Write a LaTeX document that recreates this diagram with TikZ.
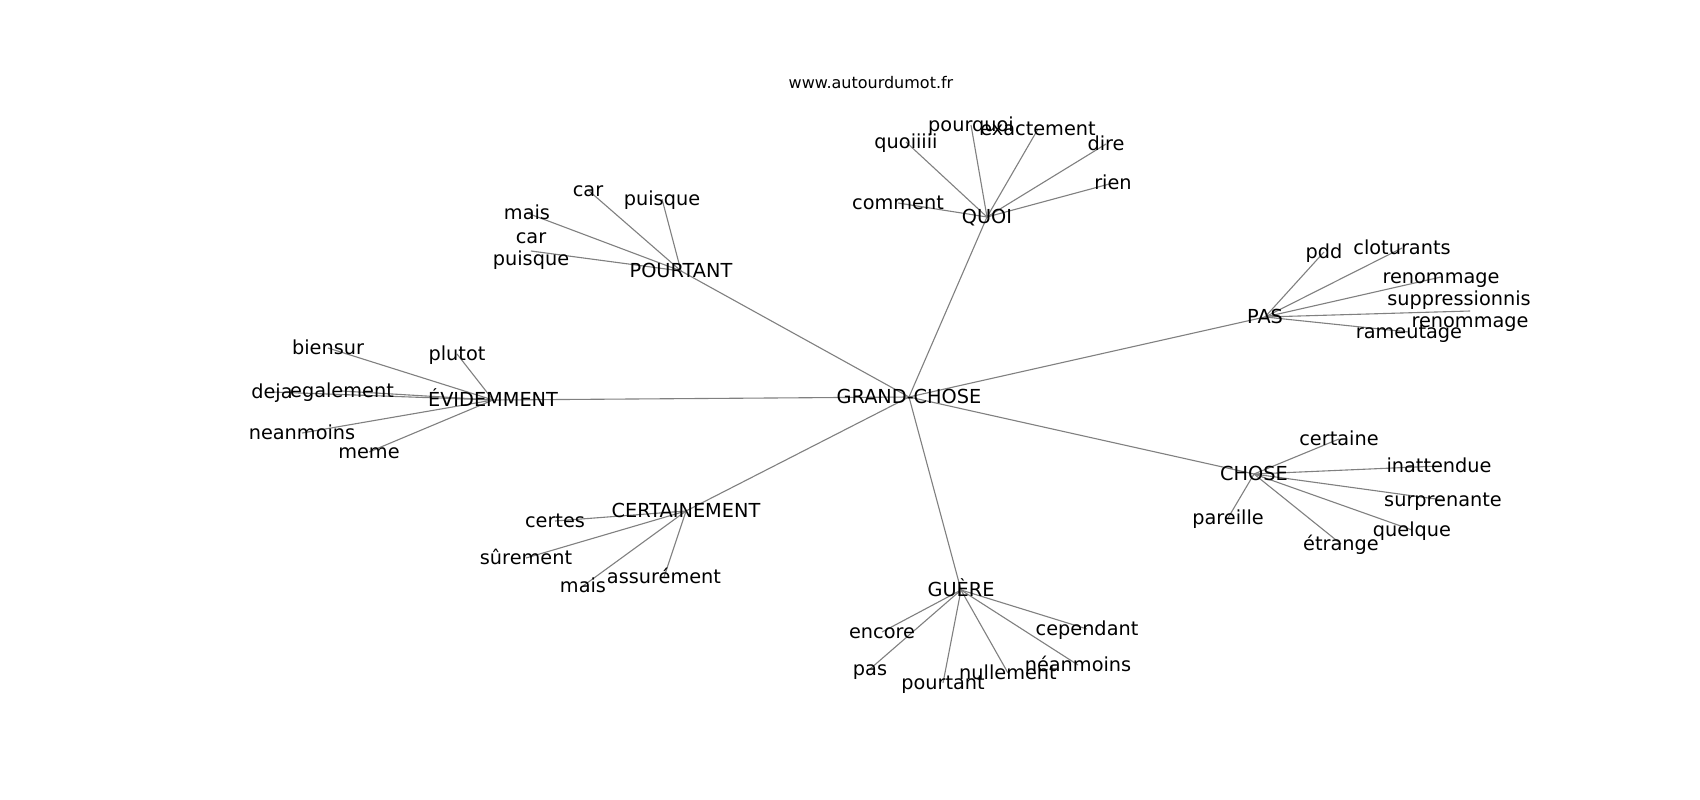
\documentclass[tikz,border=0pt]{standalone}
\usepackage{fontspec}
\setmainfont{DejaVu Sans}
\usetikzlibrary{backgrounds}

\begin{document}
\begin{tikzpicture}
	[x=1pt, y=-1pt,
	 word/.style={inner sep=0pt, font=\fontsize{19.3}{21.5}\selectfont, text height=14.8pt, text depth=2.8pt},
	 pair/.style={inner sep=0pt, font=\fontsize{19.3}{21.5}\selectfont, align=center},
	 link/.style={draw=black!50, line width=1.1pt}]

	\useasboundingbox (0,0) rectangle (1700,800);

	\node[inner sep=0pt, font=\fontsize{16}{19}\selectfont] (site) at (871,83) {www.autourdumot.fr};

	% centre and hubs
	\node[word] (gc) at (909,397) {GRAND-CHOSE};
	\node[word] (quoi) at (987,217) {QUOI};
	\node[word] (pourtant) at (681,271) {POURTANT};
	\node[word] (evid) at (493,400) {ÉVIDEMMENT};
	\node[word] (certain) at (686,511) {CERTAINEMENT};
	\node[word] (guere) at (961,590) {GUÈRE};
	\node[word] (chose) at (1254,474) {CHOSE};
	\node[word] (pas) at (1265,317) {PAS};

	% QUOI
	\node[word] (q1) at (971,125) {pourquoi};
	\node[word] (q2) at (1038,129) {exactement};
	\node[word] (q3) at (906,142) {quoiiiii};
	\node[word] (q4) at (1106,144) {dire};
	\node[word] (q5) at (1113,183) {rien};
	\node[word] (q6) at (898,203) {comment};

	% POURTANT
	\node[word] (p1) at (588,190) {car};
	\node[word] (p2) at (662,199) {puisque};
	\node[word] (p3) at (527,213) {mais};
	\node[pair] (p4) at (531,251) {car\\puisque};

	% EVIDEMMENT
	\node[word] (e1) at (328,348) {biensur};
	\node[word] (e2) at (457,354) {plutot};
	\node[word] (e3) at (272,392) {deja};
	\node[word] (e4) at (342,391) {egalement};
	\node[word] (e5) at (302,433) {neanmoins};
	\node[word] (e6) at (369,452) {meme};

	% CERTAINEMENT
	\node[word] (c1) at (555,521) {certes};
	\node[word] (c2) at (526,558) {sûrement};
	\node[word] (c3) at (583,586) {mais};
	\node[word] (c4) at (664,577) {assurément};

	% GUERE
	\node[word] (g1) at (882,632) {encore};
	\node[word] (g2) at (870,669) {pas};
	\node[word] (g3) at (943,683) {pourtant};
	\node[word] (g4) at (1008,673) {nullement};
	\node[word] (g5) at (1078,665) {néanmoins};
	\node[word] (g6) at (1087,629) {cependant};

	% CHOSE
	\node[word] (h1) at (1339,439) {certaine};
	\node[word] (h2) at (1439,466) {inattendue};
	\node[word] (h3) at (1443,500) {surprenante};
	\node[word] (h4) at (1412,530) {quelque};
	\node[word] (h5) at (1341,544) {étrange};
	\node[word] (h6) at (1228,518) {pareille};

	% PAS
	\node[word] (s1) at (1324,252) {pdd};
	\node[word] (s2) at (1402,248) {cloturants};
	\node[word] (s3) at (1441,277) {renommage};
	\node[pair] (s4) at (1470,311) {suppressionnis\hspace*{22pt}\\renommage};
	\node[word] (s5) at (1409,332) {rameutage};

	\begin{scope}[on background layer]
	\fill[white] (0,0) rectangle (1700,800);
	\draw [link]
	(gc.center) edge (quoi.center)
	(gc.center) edge (pourtant.center)
	(gc.center) edge (evid.center)
	(gc.center) edge (certain.center)
	(gc.center) edge (guere.center)
	(gc.center) edge (chose.center)
	(gc.center) edge (pas.center)
	(quoi.center) edge (q1.center) (quoi.center) edge (q2.center) (quoi.center) edge (q3.center)
	(quoi.center) edge (q4.center) (quoi.center) edge (q5.center) (quoi.center) edge (q6.center)
	(pourtant.center) edge (p1.center) (pourtant.center) edge (p2.center)
	(pourtant.center) edge (p3.center) (pourtant.center) edge (p4.center)
	(evid.center) edge (e1.center) (evid.center) edge (e2.center) (evid.center) edge (e3.center)
	(evid.center) edge (e4.center) (evid.center) edge (e5.center) (evid.center) edge (e6.center)
	(certain.center) edge (c1.center) (certain.center) edge (c2.center)
	(certain.center) edge (c3.center) (certain.center) edge (c4.center)
	(guere.center) edge (g1.center) (guere.center) edge (g2.center) (guere.center) edge (g3.center)
	(guere.center) edge (g4.center) (guere.center) edge (g5.center) (guere.center) edge (g6.center)
	(chose.center) edge (h1.center) (chose.center) edge (h2.center) (chose.center) edge (h3.center)
	(chose.center) edge (h4.center) (chose.center) edge (h5.center) (chose.center) edge (h6.center)
	(pas.center) edge (s1.center) (pas.center) edge (s2.center) (pas.center) edge (s3.center)
	(pas.center) edge (s4.center) (pas.center) edge (s5.center)
    ;
	\end{scope}
\end{tikzpicture}
\end{document}
